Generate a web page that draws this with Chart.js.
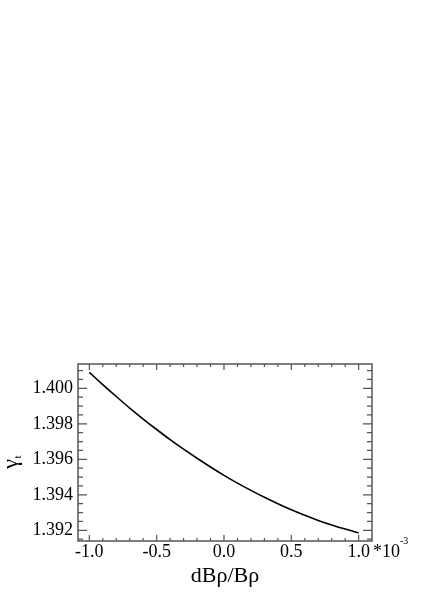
<!DOCTYPE html>
<html>
<head>
<meta charset="utf-8">
<script src="https://cdn.jsdelivr.net/npm/chart.js@4/dist/chart.umd.min.js"></script>
<style>
  html, body { margin: 0; padding: 0; background: #fff; }
</style>
</head>
<body>
<canvas id="chart" width="436" height="616"></canvas>
<script>
// dBρ/Bρ (in units of 1e-3) and the transition gamma
const dBrho = [-1.0, -0.9, -0.8, -0.7, -0.6, -0.5, -0.4, -0.3, -0.2, -0.1, 0.0,
  0.1, 0.2, 0.3, 0.4, 0.5, 0.6, 0.7, 0.8, 0.9, 1.0];
const gammaT = [1.40090, 1.40021, 1.39954, 1.39889, 1.39827, 1.39768, 1.39711,
  1.39657, 1.39606, 1.39557, 1.39510, 1.39466, 1.39425, 1.39386, 1.39350,
  1.39316, 1.39285, 1.39256, 1.39230, 1.39207, 1.39186];

const xTicks = [-1.0, -0.5, 0.0, 0.5, 1.0];
const yTicks = [1.392, 1.394, 1.396, 1.398, 1.400];

const serif = "'Liberation Serif', 'Times New Roman', serif";

const framePlugin = {
  id: 'frame',
  afterDraw(chart) {
    const { ctx, chartArea: a, scales: { x, y } } = chart;
    ctx.save();
    ctx.strokeStyle = '#555';
    ctx.lineWidth = 1.5;
    ctx.strokeRect(a.left, a.top, a.right - a.left, a.bottom - a.top);

    // inward ticks, minor every 0.1 on x and 0.0005 on y
    ctx.lineWidth = 1.2;
    ctx.beginPath();
    for (let i = -10; i <= 10; i++) {
      const px = x.getPixelForValue(i / 10);
      const len = i % 5 === 0 ? 6 : 3;
      ctx.moveTo(px, a.bottom);
      ctx.lineTo(px, a.bottom - len);
      ctx.moveTo(px, a.top);
      ctx.lineTo(px, a.top + len);
    }
    for (let k = 2783; k <= 2802; k++) {
      const py = y.getPixelForValue(k / 2000);
      if (py < a.top || py > a.bottom) continue;
      const len = k % 4 === 0 ? 9 : 5;
      ctx.moveTo(a.left, py);
      ctx.lineTo(a.left + len, py);
      ctx.moveTo(a.right, py);
      ctx.lineTo(a.right - len, py);
    }
    ctx.stroke();

    ctx.fillStyle = '#000';
    // x-axis title
    ctx.font = '22px ' + serif;
    ctx.textAlign = 'center';
    ctx.textBaseline = 'middle';
    ctx.fillText('dBρ/Bρ', (a.left + a.right) / 2, 576);

    // exponent note
    ctx.textAlign = 'left';
    ctx.textBaseline = 'alphabetic';
    ctx.font = '18px ' + serif;
    ctx.fillText('*10', 373, 557);
    ctx.font = '10px ' + serif;
    ctx.fillText('-3', 400, 544);

    // y-axis title: gamma with subscript t
    ctx.translate(17, 464);
    ctx.rotate(-Math.PI / 2);
    ctx.font = '22px ' + serif;
    ctx.textAlign = 'center';
    ctx.fillText('γ', 0, 0);
    ctx.font = '11px ' + serif;
    ctx.fillText('t', 7, 4);
    ctx.restore();
  }
};

new Chart(document.getElementById('chart'), {
  type: 'line',
  data: {
    datasets: [
      {
        data: dBrho.map((v, i) => ({ x: v, y: gammaT[i] })),
        borderColor: '#000',
        borderWidth: 1.6,
        pointRadius: 0,
        tension: 0.3,
        fill: false,
      },
    ],
  },
  options: {
    responsive: false,
    animation: false,
    devicePixelRatio: 1,
    layout: { padding: { top: 364, right: 64, bottom: 0, left: 0 } },
    plugins: {
      legend: { display: false },
      tooltip: { enabled: false },
    },
    scales: {
      x: {
        type: 'linear',
        min: -1.084,
        max: 1.099,
        afterFit: (s) => { s.height = 75; },
        afterBuildTicks: (s) => { s.ticks = xTicks.map((v) => ({ value: v })); },
        grid: { display: false, drawTicks: false },
        border: { display: false },
        ticks: {
          color: '#000',
          padding: 0,
          maxRotation: 0,
          font: { family: serif, size: 18 },
          callback: (v) => Number(v).toFixed(1),
        },
      },
      y: {
        type: 'linear',
        min: 1.3914,
        max: 1.40137,
        afterFit: (s) => { s.width = 78; },
        afterBuildTicks: (s) => { s.ticks = yTicks.map((v) => ({ value: v })); },
        grid: { display: false, drawTicks: false },
        border: { display: false },
        ticks: {
          color: '#000',
          padding: 5,
          font: { family: serif, size: 18 },
          callback: (v) => Number(v).toFixed(3),
        },
      },
    },
  },
  plugins: [framePlugin],
});
</script>
</body>
</html>
